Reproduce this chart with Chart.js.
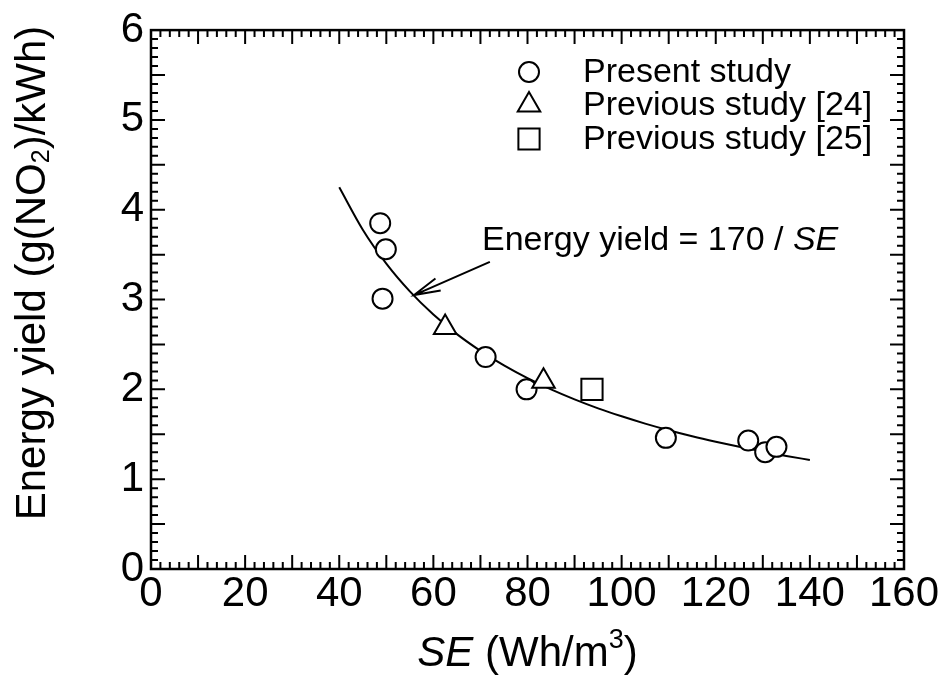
<!DOCTYPE html>
<html>
<head>
<meta charset="utf-8">
<script src="https://cdn.jsdelivr.net/npm/chart.js@4.4.1/dist/chart.umd.min.js"></script>
<style>
  html, body { margin: 0; padding: 0; background: #fff; }
</style>
</head>
<body>
<canvas id="chart" width="947" height="683"></canvas>
<script>
// Data
var presentSE    = [48.7, 49.9, 49.2, 71.1, 79.8, 109.4, 130.5, 126.9, 132.9];
var presentYield = [3.85, 3.56, 3.01, 2.36, 2.00, 1.46, 1.30, 1.43, 1.36];
var prev24SE     = [62.5, 83.4];
var prev24Yield  = [2.69, 2.09];
var prev25SE     = [93.7];
var prev25Yield  = [2.00];

// fitted curve: Energy yield = 170 / SE
var fitSE    = [40, 45, 50, 55, 60, 65, 70, 75, 80, 85, 90, 95, 100, 105, 110, 115, 120, 125, 130, 135, 140];
var fitYield = [4.250, 3.778, 3.400, 3.091, 2.833, 2.615, 2.429, 2.267, 2.125, 2.000, 1.889, 1.789, 1.700,
                1.619, 1.545, 1.478, 1.417, 1.360, 1.308, 1.259, 1.214];

var xTickValues = [0, 20, 40, 60, 80, 100, 120, 140, 160];
var yTickValues = [0, 1, 2, 3, 4, 5, 6];

var legendLabels = ['Present study', 'Previous study [24]', 'Previous study [25]'];

var FONT = "'Liberation Sans', Arial, Helvetica, sans-serif";

function toPoints(xs, ys) {
  return xs.map(function(x, i) { return { x: x, y: ys[i] }; });
}

// rich text helpers (italic / sub / superscript)
function partFont(p, size) {
  return (p.italic ? 'italic ' : '') + Math.round(size * (p.scale || 1)) + 'px ' + FONT;
}
function partsWidth(ctx, parts, size) {
  var w = 0;
  parts.forEach(function(p) { ctx.font = partFont(p, size); w += ctx.measureText(p.text).width; });
  return w;
}
function drawParts(ctx, parts, x, y, size) {
  parts.forEach(function(p) {
    ctx.font = partFont(p, size);
    ctx.fillText(p.text, x, y + (p.shift || 0) * size);
    x += ctx.measureText(p.text).width;
  });
}

var framePlugin = {
  id: 'frame',
  afterDatasetsDraw: function(chart) {
    var ctx = chart.ctx;
    var a = chart.chartArea;
    var xs = chart.scales.x, ys = chart.scales.y;
    ctx.save();
    ctx.strokeStyle = '#000';
    ctx.fillStyle = '#000';

    // inward ticks on all four sides
    ctx.lineWidth = 2;
    ctx.beginPath();
    for (var i = 0; i <= 80; i++) {
      var px = xs.getPixelForValue(i * 2);
      var len = (i % 5 === 0) ? 14 : 7;
      ctx.moveTo(px, a.bottom); ctx.lineTo(px, a.bottom - len);
      ctx.moveTo(px, a.top); ctx.lineTo(px, a.top + len);
    }
    for (var j = 0; j <= 60; j++) {
      var py = ys.getPixelForValue(j / 10);
      var l2 = (j % 5 === 0) ? 14 : 7;
      ctx.moveTo(a.left, py); ctx.lineTo(a.left + l2, py);
      ctx.moveTo(a.right, py); ctx.lineTo(a.right - l2, py);
    }
    ctx.stroke();

    // frame
    ctx.lineWidth = 2.5;
    ctx.strokeRect(a.left, a.top, a.right - a.left, a.bottom - a.top);

    // arrow with annotation
    var tail = { x: xs.getPixelForValue(72.0), y: ys.getPixelForValue(3.42) };
    var tip = { x: xs.getPixelForValue(55.9), y: ys.getPixelForValue(3.05) };
    var ang = Math.atan2(tail.y - tip.y, tail.x - tip.x);
    var hl = 27, ha = 14 * Math.PI / 180;
    ctx.lineWidth = 2;
    ctx.beginPath();
    ctx.moveTo(tail.x, tail.y); ctx.lineTo(tip.x, tip.y);
    ctx.moveTo(tip.x + hl * Math.cos(ang - ha), tip.y + hl * Math.sin(ang - ha));
    ctx.lineTo(tip.x, tip.y);
    ctx.lineTo(tip.x + hl * Math.cos(ang + ha), tip.y + hl * Math.sin(ang + ha));
    ctx.stroke();

    ctx.textAlign = 'left';
    ctx.textBaseline = 'alphabetic';
    drawParts(ctx, [{ text: 'Energy yield = 170 / ' }, { text: 'SE', italic: true }], 482, 250, 34);

    // legend
    var styles = ['circle', 'triangle', 'rect'];
    var radii = [10, 13, 15];
    var rowsY = [72, 105, 139];
    legendLabels.forEach(function(lbl, k) {
      ctx.lineWidth = 2;
      ctx.fillStyle = '#fff';
      ctx.strokeStyle = '#000';
      Chart.helpers.drawPoint(ctx, { pointStyle: styles[k], radius: radii[k], borderWidth: 2 }, 529, rowsY[k]);
      ctx.fillStyle = '#000';
      ctx.font = '34px ' + FONT;
      ctx.textBaseline = 'middle';
      ctx.fillText(lbl, 583, rowsY[k] + 1);
    });

    // axis titles
    ctx.textBaseline = 'alphabetic';
    var xParts = [{ text: 'SE', italic: true }, { text: ' (Wh/m' }, { text: '3', scale: 0.65, shift: -0.42 }, { text: ')' }];
    var xw = partsWidth(ctx, xParts, 42);
    drawParts(ctx, xParts, (a.left + a.right) / 2 - xw / 2, 666, 42);

    var yParts = [{ text: 'Energy yield (g(NO' }, { text: '2', scale: 0.6, shift: 0.1 }, { text: ')/kWh)' }];
    var yw = partsWidth(ctx, yParts, 42);
    ctx.translate(45, 273);
    ctx.rotate(-Math.PI / 2);
    drawParts(ctx, yParts, -yw / 2, 0, 42);
    ctx.restore();
  }
};

var ctx = document.getElementById('chart').getContext('2d');
var myChart = new Chart(ctx, {
  type: 'scatter',
  data: {
    datasets: [
      {
        label: 'fit',
        type: 'line',
        data: toPoints(fitSE, fitYield),
        borderColor: '#000',
        borderWidth: 2,
        pointRadius: 0,
        cubicInterpolationMode: 'monotone',
        fill: false,
        order: 4
      },
      {
        label: legendLabels[0],
        data: toPoints(presentSE, presentYield),
        pointStyle: 'circle',
        pointRadius: 10,
        borderWidth: 2,
        borderColor: '#000',
        backgroundColor: '#fff',
        order: 3
      },
      {
        label: legendLabels[1],
        data: toPoints(prev24SE, prev24Yield),
        pointStyle: 'triangle',
        pointRadius: 13,
        borderWidth: 2,
        borderColor: '#000',
        backgroundColor: '#fff',
        order: 2
      },
      {
        label: legendLabels[2],
        data: toPoints(prev25SE, prev25Yield),
        pointStyle: 'rect',
        pointRadius: 15,
        borderWidth: 2,
        borderColor: '#000',
        backgroundColor: '#fff',
        order: 1
      }
    ]
  },
  options: {
    responsive: false,
    animation: false,
    events: [],
    layout: { padding: { top: 30, right: 43, left: 0, bottom: 0 } },
    plugins: {
      legend: { display: false },
      tooltip: { enabled: false }
    },
    scales: {
      x: {
        type: 'linear',
        min: 0,
        max: 160,
        afterBuildTicks: function(s) { s.ticks = xTickValues.map(function(v) { return { value: v }; }); },
        afterFit: function(s) { s.height = 114; },
        grid: { display: false, drawTicks: false },
        border: { display: false },
        ticks: {
          padding: 2,
          maxRotation: 0,
          color: '#000',
          font: { family: FONT, size: 42, lineHeight: 1.1 }
        }
      },
      y: {
        type: 'linear',
        min: 0,
        max: 6,
        afterBuildTicks: function(s) { s.ticks = yTickValues.map(function(v) { return { value: v }; }); },
        afterFit: function(s) { s.width = 151; },
        grid: { display: false, drawTicks: false },
        border: { display: false },
        ticks: {
          padding: 7,
          color: '#000',
          font: { family: FONT, size: 42, lineHeight: 1.1 }
        }
      }
    }
  },
  plugins: [framePlugin]
});
</script>
</body>
</html>
